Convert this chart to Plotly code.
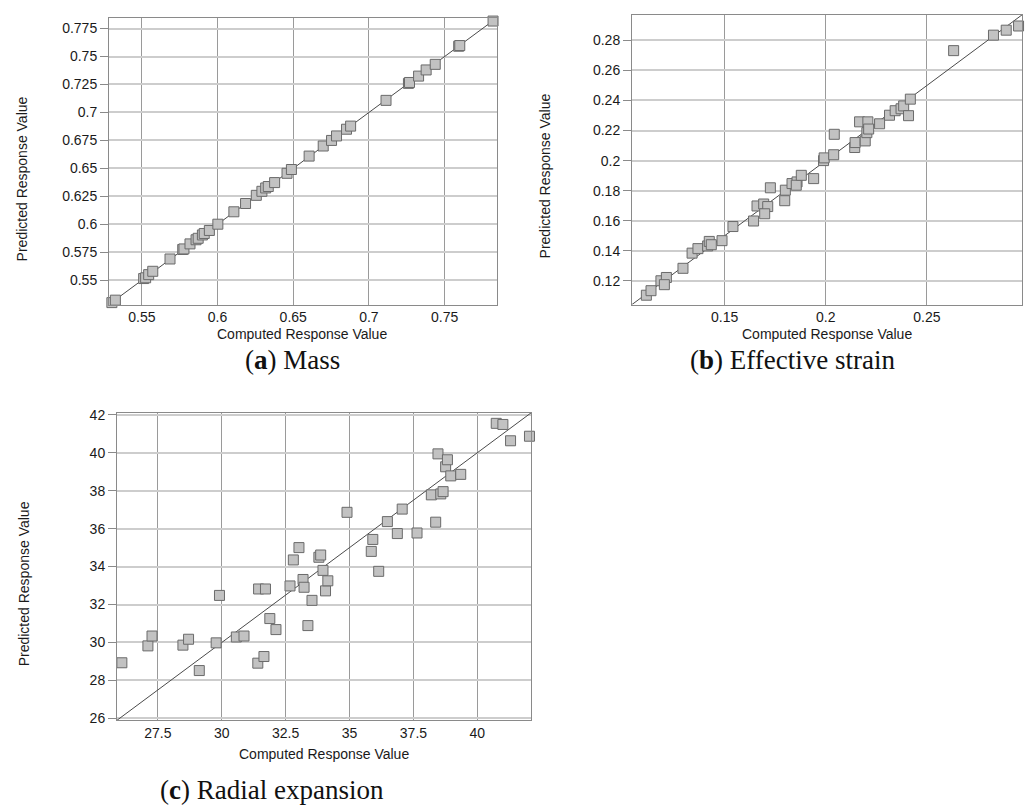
import plotly.graph_objects as go

# ---- (a) Mass ----
mass_computed = [0.5302, 0.5325, 0.5512, 0.5525, 0.5545, 0.5572, 0.5686, 0.5770, 0.5778, 0.5818,
                 0.5858, 0.5872, 0.5900, 0.5912, 0.5946, 0.6002, 0.6108, 0.6185, 0.6256, 0.6293,
                 0.6318, 0.6335, 0.6377, 0.6459, 0.6488, 0.6605, 0.6698, 0.6753, 0.6786, 0.6852,
                 0.6879, 0.7113, 0.7261, 0.7268, 0.7328, 0.7378, 0.7438, 0.7593, 0.7600, 0.7820]
mass_predicted = [0.5300, 0.5322, 0.5515, 0.5522, 0.5550, 0.5580, 0.5690, 0.5775, 0.5780, 0.5825,
                  0.5862, 0.5875, 0.5905, 0.5918, 0.5945, 0.6001, 0.6112, 0.6186, 0.6259, 0.6295,
                  0.6325, 0.6338, 0.6373, 0.6456, 0.6490, 0.6610, 0.6700, 0.6750, 0.6790, 0.6850,
                  0.6878, 0.7108, 0.7260, 0.7268, 0.7325, 0.7380, 0.7430, 0.7592, 0.7598, 0.7817]
mass_range = [0.5283, 0.7846]
mass_xticks = [0.55, 0.6, 0.65, 0.7, 0.75]
mass_xlabels = ["0.55", "0.6", "0.65", "0.7", "0.75"]
mass_yticks = [0.55, 0.575, 0.6, 0.625, 0.65, 0.675, 0.7, 0.725, 0.75, 0.775]
mass_ylabels = ["0.55", "0.575", "0.6", "0.625", "0.65", "0.675", "0.7", "0.725", "0.75", "0.775"]

# ---- (b) Effective strain ----
strain_computed = [0.1113, 0.1136, 0.1185, 0.1212, 0.1202, 0.1294, 0.1339, 0.1368, 0.1416, 0.1424,
                   0.1434, 0.1487, 0.1541, 0.1643, 0.1660, 0.1693, 0.1713, 0.1698, 0.1726, 0.1797,
                   0.1800, 0.1833, 0.1858, 0.1854, 0.1879, 0.1940, 0.1989, 0.1992, 0.2039, 0.2042,
                   0.2143, 0.2145, 0.2167, 0.2195, 0.2203, 0.2208, 0.2212, 0.2266, 0.2315, 0.2343,
                   0.2372, 0.2385, 0.2409, 0.2418, 0.2632, 0.2829, 0.2892, 0.2953]
strain_predicted = [0.1104, 0.1134, 0.1200, 0.1222, 0.1174, 0.1283, 0.1384, 0.1414, 0.1432, 0.1462,
                    0.1440, 0.1467, 0.1561, 0.1598, 0.1698, 0.1711, 0.1694, 0.1646, 0.1819, 0.1733,
                    0.1803, 0.1847, 0.1858, 0.1836, 0.1902, 0.1880, 0.2000, 0.2018, 0.2039, 0.2175,
                    0.2087, 0.2120, 0.2258, 0.2131, 0.2186, 0.2258, 0.2210, 0.2245, 0.2302, 0.2332,
                    0.2345, 0.2364, 0.2299, 0.2409, 0.2732, 0.2835, 0.2868, 0.2896]
strain_range = [0.1042, 0.2970]
strain_xticks = [0.15, 0.2, 0.25]
strain_xlabels = ["0.15", "0.2", "0.25"]
strain_yticks = [0.12, 0.14, 0.16, 0.18, 0.2, 0.22, 0.24, 0.26, 0.28]
strain_ylabels = ["0.12", "0.14", "0.16", "0.18", "0.2", "0.22", "0.24", "0.26", "0.28"]

# ---- (c) Radial expansion ----
radial_computed = [26.09, 27.11, 27.27, 28.48, 28.70, 29.12, 29.78, 29.91, 30.57, 30.87,
                   31.41, 31.65, 31.44, 31.71, 31.88, 32.12, 32.67, 32.80, 33.02, 33.18,
                   33.22, 33.37, 33.53, 33.80, 33.87, 33.96, 34.06, 34.15, 34.90, 35.85,
                   35.91, 36.14, 36.48, 36.87, 37.06, 37.64, 38.20, 38.37, 38.46, 38.57,
                   38.66, 38.76, 38.83, 38.96, 39.35, 40.74, 41.00, 41.30, 42.04]
radial_predicted = [28.93, 29.82, 30.34, 29.86, 30.17, 28.52, 29.98, 32.48, 30.29, 30.34,
                    28.91, 29.26, 32.82, 32.82, 31.26, 30.68, 32.98, 34.35, 35.00, 33.32,
                    32.91, 30.89, 32.22, 34.49, 34.61, 33.80, 32.72, 33.25, 36.86, 34.80,
                    35.43, 33.75, 36.37, 35.74, 37.03, 35.77, 37.78, 36.34, 39.94, 37.83,
                    37.95, 39.26, 39.63, 38.78, 38.86, 41.55, 41.49, 40.63, 40.87]
radial_range = [25.9, 42.1]
radial_xticks = [27.5, 30, 32.5, 35, 37.5, 40]
radial_xlabels = ["27.5", "30", "32.5", "35", "37.5", "40"]
radial_yticks = [26, 28, 30, 32, 34, 36, 38, 40, 42]
radial_ylabels = ["26", "28", "30", "32", "34", "36", "38", "40", "42"]

W, H = 1028, 811
SANS = "Liberation Sans, Arial, sans-serif"
SERIF = "Liberation Serif, Times New Roman, serif"

def px_x(p):
    return p / W

def px_y(p):
    return 1 - p / H

panels = [
    dict(cx=mass_computed, cy=mass_predicted, rng=mass_range,
         xt=mass_xticks, xl=mass_xlabels, yt=mass_yticks, yl=mass_ylabels,
         box=(109, 497, 12, 303)),
    dict(cx=strain_computed, cy=strain_predicted, rng=strain_range,
         xt=strain_xticks, xl=strain_xlabels, yt=strain_yticks, yl=strain_ylabels,
         box=(632, 1022, 9, 303)),
    dict(cx=radial_computed, cy=radial_predicted, rng=radial_range,
         xt=radial_xticks, xl=radial_xlabels, yt=radial_yticks, yl=radial_ylabels,
         box=(117, 531, 413, 725)),
]

fig = go.Figure()
layout = {}
tick_font = dict(family=SANS, size=14, color="#1a1a1a")
for i, p in enumerate(panels, start=1):
    suffix = "" if i == 1 else str(i)
    xa, ya = "x" + suffix, "y" + suffix
    # identity line y = x across the axis range
    fig.add_trace(go.Scatter(x=p["rng"], y=p["rng"], mode="lines", xaxis=xa, yaxis=ya,
                             line=dict(color="#4a4a4a", width=1), hoverinfo="skip",
                             showlegend=False))
    fig.add_trace(go.Scatter(x=p["cx"], y=p["cy"], mode="markers", xaxis=xa, yaxis=ya,
                             marker=dict(symbol="square", size=10, color="#c2c2c2",
                                         line=dict(color="#6a6a6a", width=1)),
                             showlegend=False, cliponaxis=False))
    x0, x1, y0, y1 = p["box"]
    frame = dict(showline=True, mirror=True, linecolor="#8a8a8a", linewidth=1,
                 zeroline=False, tickfont=tick_font, tickmode="array", range=p["rng"])
    layout["xaxis" + suffix] = dict(frame, domain=[px_x(x0), px_x(x1)], anchor=ya,
                                    ticks="", tickvals=p["xt"], ticktext=p["xl"],
                                    showgrid=True, gridcolor="#9a9a9a", gridwidth=1)
    layout["yaxis" + suffix] = dict(frame, domain=[px_y(y1), px_y(y0)], anchor=xa,
                                    ticks="outside", ticklen=8, tickcolor="#8a8a8a",
                                    tickvals=p["yt"], ticktext=p["yl"], showgrid=True,
                                    gridcolor="#cdcdcd", gridwidth=2)

title_font = dict(family=SANS, size=14, color="#1a1a1a")
annotations = []
# axis titles
for (tx, ty) in [(302, 333), (827, 333), (324, 759)]:
    annotations.append(dict(text="Computed Response Value", x=px_x(tx), y=px_y(ty),
                            xref="paper", yref="paper", showarrow=False,
                            xanchor="center", yanchor="middle", font=title_font))
for (tx, ty) in [(22, 176), (545, 173), (24, 587)]:
    annotations.append(dict(text="Predicted Response Value", x=px_x(tx), y=px_y(ty),
                            xref="paper", yref="paper", showarrow=False, textangle=-90,
                            xanchor="center", yanchor="middle", font=title_font))
# panel captions
cap_font = dict(family=SERIF, size=27, color="#111111")
for text, (tx, ty) in [("(<b>a</b>) Mass", (292, 359)),
                       ("(<b>b</b>) Effective strain", (792, 359)),
                       ("(<b>c</b>) Radial expansion", (272, 796))]:
    annotations.append(dict(text=text, x=px_x(tx), y=px_y(ty), xref="paper", yref="paper",
                            showarrow=False, xanchor="center", yanchor="middle",
                            font=cap_font))

fig.update_layout(width=W, height=H, margin=dict(l=0, r=0, t=0, b=0),
                  paper_bgcolor="white", plot_bgcolor="white",
                  annotations=annotations, **layout)

fig.write_html("out.html")
